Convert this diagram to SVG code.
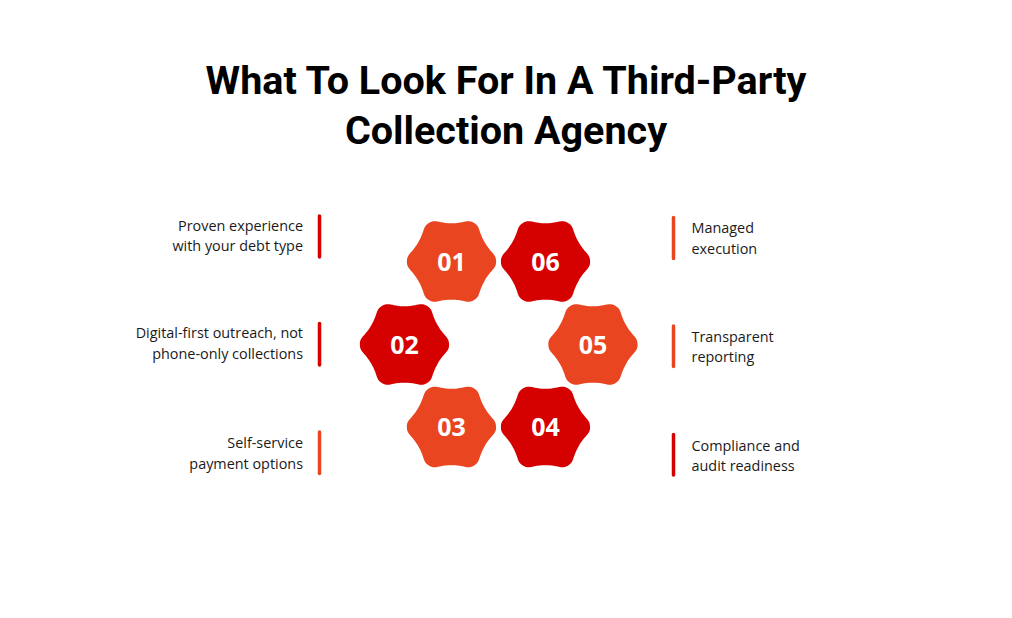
<svg xmlns="http://www.w3.org/2000/svg" width="1012" height="618" viewBox="0 0 1012 618">
<style>
.title{font-family:Roboto,"Liberation Sans",sans-serif;font-weight:700;font-size:39.5px;fill:#000;text-anchor:middle}
.num{font-family:"Open Sans","Noto Sans",sans-serif;font-weight:700;font-size:25px;fill:#fff;text-anchor:middle}
.lbl{font-family:"Open Sans","Noto Sans",sans-serif;font-size:14.4px;fill:#1a1a1a}
.l{text-anchor:end}
.orange{fill:#EA4521}
.red{fill:#D50000}
.bar{stroke-width:3.5;stroke-linecap:round}
</style>
<defs>
<path id="hex" transform="scale(0.97)" d="M46,0 C46,8 41.21,7.63 34.21,19.75 C27.21,31.87 29.93,35.84 23,39.84 C16.07,43.84 14,39.5 0,39.5 C-14,39.5 -16.07,43.84 -23,39.84 C-29.93,35.84 -27.21,31.87 -34.21,19.75 C-41.21,7.63 -46,8 -46,0 C-46,-8 -41.21,-7.63 -34.21,-19.75 C-27.21,-31.87 -29.93,-35.84 -23,-39.84 C-16.07,-43.84 -14,-39.5 0,-39.5 C14,-39.5 16.07,-43.84 23,-39.84 C29.93,-35.84 27.21,-31.87 34.21,-19.75 C41.21,-7.63 46,-8 46,0 Z"/>
</defs>
<rect width="1012" height="618" fill="#fff"/>
<g id="title">
<text class="title" x="506" y="94">What To Look For In A Third-Party</text>
<text class="title" x="506" y="144">Collection Agency</text>
</g>
<g id="node01" transform="translate(451.5,261.5)"><use href="#hex" class="orange"/><text class="num" y="9">01</text></g>
<g id="node02" transform="translate(404.5,344.5)"><use href="#hex" class="red"/><text class="num" y="9">02</text></g>
<g id="node03" transform="translate(451.5,427)"><use href="#hex" class="orange"/><text class="num" y="9">03</text></g>
<g id="node04" transform="translate(545.5,427)"><use href="#hex" class="red"/><text class="num" y="9">04</text></g>
<g id="node05" transform="translate(593,344.5)"><use href="#hex" class="orange"/><text class="num" y="9">05</text></g>
<g id="node06" transform="translate(545.5,261.5)"><use href="#hex" class="red"/><text class="num" y="9">06</text></g>
<g id="connectors">
<line class="bar" x1="319.5" y1="216" x2="319.5" y2="257" stroke="#D50000"/>
<line class="bar" x1="319.5" y1="323.5" x2="319.5" y2="365" stroke="#D50000"/>
<line class="bar" x1="319.5" y1="432" x2="319.5" y2="473.5" stroke="#EA4521"/>
<line class="bar" x1="673.5" y1="217.5" x2="673.5" y2="258.5" stroke="#EA4521"/>
<line class="bar" x1="673.5" y1="326" x2="673.5" y2="366.5" stroke="#EA4521"/>
<line class="bar" x1="673.5" y1="434.5" x2="673.5" y2="475" stroke="#D50000"/>
</g>
<g id="label01"><text class="lbl l" x="303" y="230.5">Proven experience</text><text class="lbl l" x="303" y="251">with your debt type</text></g>
<g id="label02"><text class="lbl l" x="303" y="338">Digital-first outreach, not</text><text class="lbl l" x="303" y="358.5">phone-only collections</text></g>
<g id="label03"><text class="lbl l" x="303" y="448">Self-service</text><text class="lbl l" x="303" y="468.5">payment options</text></g>
<g id="label06"><text class="lbl" x="691.5" y="233">Managed</text><text class="lbl" x="691.5" y="253.5">execution</text></g>
<g id="label05"><text class="lbl" x="691.5" y="341.5">Transparent</text><text class="lbl" x="691.5" y="362">reporting</text></g>
<g id="label04"><text class="lbl" x="691.5" y="450.5">Compliance and</text><text class="lbl" x="691.5" y="471">audit readiness</text></g>
</svg>
